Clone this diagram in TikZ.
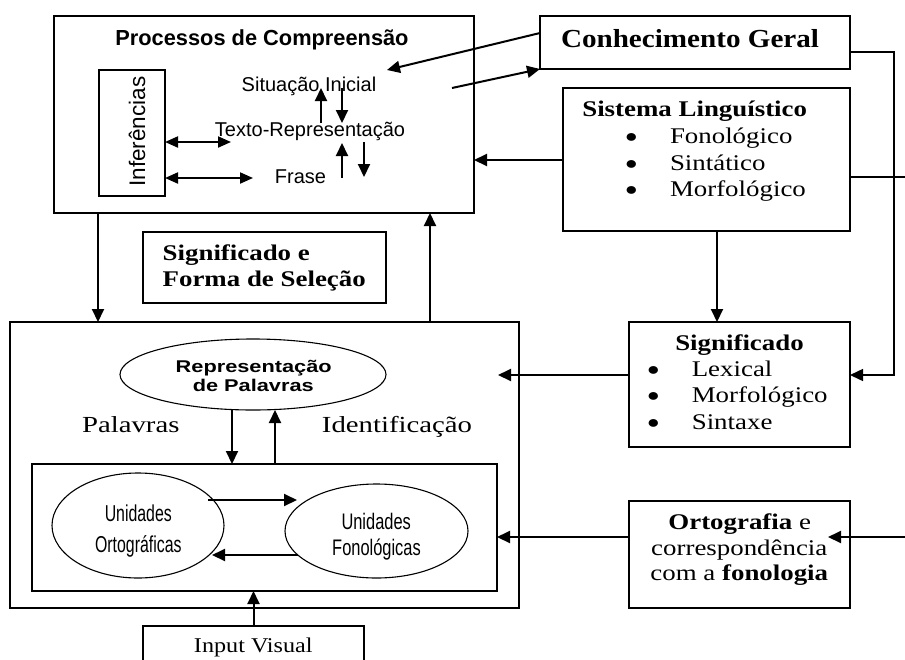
\documentclass[tikz,border=0pt]{standalone}
\usepackage{fontspec}
\setmainfont{Liberation Serif}
\newfontfamily\tnr[FakeStretch=1.2]{Liberation Serif}
\newfontfamily\tnrcg[FakeStretch=1.12]{Liberation Serif}
\newfontfamily\tnrpi[FakeStretch=1.25]{Liberation Serif}
\newfontfamily\tnriv[FakeStretch=1.15]{Liberation Serif}
\newfontfamily\ari{Liberation Sans}
\newfontfamily\arirep[FakeStretch=1.28]{Liberation Sans}
\newfontfamily\arinarO[FakeStretch=0.69]{Liberation Sans}
\newfontfamily\arinarF[FakeStretch=0.73]{Liberation Sans}
\usetikzlibrary{arrows.meta,shapes.geometric,calc}
\newcommand{\bulitem}[1]{\makebox[0pt]{\raisebox{1pt}{\fontsize{18}{20}\selectfont ●}}\hspace{38.5pt}#1}
\tikzset{
  box/.style={draw, line width=2pt, rectangle, inner sep=0pt, outer sep=0pt},
  ell/.style={draw, line width=1.1pt, ellipse, inner sep=0pt, outer sep=0pt},
  arr/.style={line width=2pt, -{Triangle[length=13pt,width=12pt]}},
  darr/.style={line width=2pt, {Triangle[length=13pt,width=11pt]}-{Triangle[length=13pt,width=11pt]}},
  ln/.style={line width=1.5pt},
  ctxt/.style={inner sep=0pt, outer sep=0pt, anchor=base},
  ltxt/.style={inner sep=0pt, outer sep=0pt, anchor=base west},
  ser/.style={font=\tnr\fontsize{22.4}{27}\selectfont},
  serb/.style={font=\tnr\bfseries\fontsize{22.4}{27}\selectfont},
  sans/.style={font=\ari\fontsize{20}{24}\selectfont},
  lst/.style={inner sep=0pt, outer sep=0pt, anchor=base west, font=\tnr\fontsize{22.4}{26.7}\selectfont},
}
\begin{document}
\begin{tikzpicture}[x=1pt,y=-1pt]
\useasboundingbox (0,0) rectangle (905,659);
\clip (0,0) rectangle (905,659);

% ---------- boxes ----------
\node[box, minimum width=420pt, minimum height=197pt] (proc) at (264,114.5) {};
\node[box, minimum width=66pt, minimum height=126pt] (inf) at (132,133) {};
\node[box, minimum width=310pt, minimum height=53pt] (cg) at (695,42.5) {};
\node[box, minimum width=287pt, minimum height=143pt] (sl) at (706.5,159.5) {};
\node[box, minimum width=243pt, minimum height=71pt] (sfs) at (264.5,267.5) {};
\node[box, minimum width=509pt, minimum height=286pt] (big) at (264.5,465) {};
\node[box, minimum width=221pt, minimum height=125pt] (sig) at (739.5,384.5) {};
\node[box, minimum width=221pt, minimum height=107pt] (ort) at (739.5,554.5) {};
\node[box, minimum width=465pt, minimum height=127pt] (inner) at (264.5,527.5) {};
\node[box, minimum width=221pt, minimum height=54pt] (iv) at (253.5,653) {};

% ---------- ellipses ----------
\node[ell, minimum width=266pt, minimum height=71pt] (rep) at (253,374.5) {};
\node[ell, minimum width=172pt, minimum height=105pt] (uo) at (138,525.5) {};
\node[ell, minimum width=183pt, minimum height=94pt] (uf) at (376.5,531) {};

% ---------- texts: Processos ----------
\node[ctxt, font=\ari\bfseries\fontsize{21.8}{26}\selectfont] (tproc) at (262,45) {Processos de Compreensão};
\node[ctxt, rotate=90, font=\ari\fontsize{22.5}{26}\selectfont] (tinf) at (145,131.5) {Inferências};
\node[ctxt, sans] (tsit) at (309,91) {Situação Inicial};
\node[ctxt, sans] (ttex) at (310,136) {Texto-Representação};
\node[ctxt, sans] (tfra) at (300.5,183) {Frase};

% ---------- texts: right column ----------
\node[ctxt, font=\tnrcg\bfseries\fontsize{26}{30}\selectfont] (tcg) at (690,47.7) {Conhecimento Geral};
\node[ctxt, serb] (tsl) at (694.7,116.7) {Sistema Linguístico};
\node[lst] (lsl) at (631.5,143.3) {\begin{tabular}[t]{@{}l@{}}\bulitem{Fonológico}\\ \bulitem{Sintático}\\ \bulitem{Morfológico}\end{tabular}};

\node[ctxt, serb] (tsig) at (739.5,350) {Significado};
\node[lst] (lsig) at (653.3,376) {\begin{tabular}[t]{@{}l@{}}\bulitem{Lexical}\\ \bulitem{Morfológico}\\ \bulitem{Sintaxe}\end{tabular}};

\node[ctxt, ser] (to1) at (739.7,529.3) {\textbf{Ortografia} e};
\node[ctxt, ser] (to2) at (739.3,555) {correspondência};
\node[ctxt, ser] (to3) at (739.3,580) {com a \textbf{fonologia}};

% ---------- texts: middle / lower ----------
\node[ltxt, serb] (tsf1) at (162.7,260) {Significado e};
\node[ltxt, serb] (tsf2) at (162.7,286) {Forma de Seleção};

\node[ctxt, font=\arirep\bfseries\fontsize{17}{20}\selectfont] (trep1) at (253.7,372.7) {Representação};
\node[ctxt, font=\arirep\bfseries\fontsize{17}{20}\selectfont] (trep2) at (253.3,391.7) {de Palavras};

\node[ctxt, font=\tnrpi\fontsize{23}{27}\selectfont] (tpal) at (130.8,432.7) {Palavras};
\node[ctxt, font=\tnrpi\fontsize{23}{27}\selectfont] (tide) at (397,432.7) {Identificação};

\node[ctxt, font=\arinarO\fontsize{23}{27}\selectfont] (tuo1) at (138.3,521.7) {Unidades};
\node[ctxt, font=\arinarO\fontsize{23}{27}\selectfont] (tuo2) at (138.3,552.3) {Ortográficas};
\node[ctxt, font=\arinarF\fontsize{22.5}{27}\selectfont] (tuf1) at (376.2,529.3) {Unidades};
\node[ctxt, font=\arinarF\fontsize{22.5}{27}\selectfont] (tuf2) at (376.5,555) {Fonológicas};

\node[ctxt, font=\tnriv\fontsize{21}{25}\selectfont] (tiv) at (253.3,652.7) {Input Visual};

% ---------- free end coordinates ----------
\coordinate (si) at (387,70);
\coordinate (tc) at (452,88);
\coordinate (re1) at (905,177);
\coordinate (rc) at (894,52);
\coordinate (sb) at (498,375);
\coordinate (re2) at (905,537);
\coordinate (ot) at (828,537);
\coordinate (d1) at (231,142);
\coordinate (d2) at (253,178);
\coordinate (u1a) at (321,123);
\coordinate (u1b) at (321,88);
\coordinate (v1a) at (342,88);
\coordinate (v1b) at (342,123);
\coordinate (u2a) at (342,178);
\coordinate (u2b) at (342,143);
\coordinate (v2a) at (364,142);
\coordinate (v2b) at (364,177);
\coordinate (h1a) at (208,500);
\coordinate (h1b) at (297,500);
\coordinate (h2a) at (298,555);
\coordinate (h2b) at (212,555);

% ---------- connectors ----------
\draw[arr] (cg.west |- 0,33) -- (si);
\draw[arr] (tc) -- (cg.south west);
\draw[arr] (sl.west |- 0,160) -- (proc.east |- 0,160);
\draw[ln] (sl.east |- re1) -- (re1);
\draw[ln, -{Triangle[length=13pt,width=12pt]}] (cg.east |- rc) -- (rc) -- (rc |- sb) -- (sig.east |- sb);
\draw[arr] (717,0 |- sl.south) -- (717,0 |- sig.north);
\draw[arr] (sig.west |- sb) -- (sb);
\draw[arr] (re2) -- (ot);
\draw[arr] (ort.west |- ot) -- (inner.east |- ot);
\draw[arr] (98,0 |- proc.south) -- (98,0 |- big.north);
\draw[arr] (430,0 |- big.north) -- (430,0 |- proc.south);
\draw[arr] (232,0 |- rep.south) -- (232,0 |- inner.north);
\draw[arr] (275,0 |- inner.north) -- (275,0 |- rep.south);
\draw[arr] (iv.north) -- (iv.north |- inner.south);
\draw[darr] (inf.east |- d1) -- (d1);
\draw[darr] (inf.east |- d2) -- (d2);
\draw[arr] (u1a) -- (u1b);
\draw[arr] (v1a) -- (v1b);
\draw[arr] (u2a) -- (u2b);
\draw[arr] (v2a) -- (v2b);
\draw[arr] (h1a) -- (h1b);
\draw[arr] (h2a) -- (h2b);
\end{tikzpicture}
\end{document}
